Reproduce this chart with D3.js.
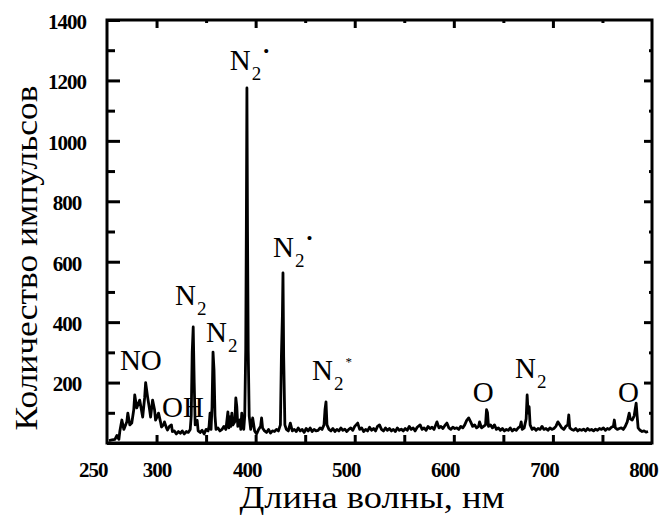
<!DOCTYPE html>
<html>
<head>
<meta charset="utf-8">
<script src="https://cdn.jsdelivr.net/npm/d3@7"></script>
<style>
  body { margin: 0; background: #fff; }
  svg { display: block; }
  text { font-family: "Liberation Serif", "Times New Roman", serif; fill: #000; }
</style>
</head>
<body>
<div id="viz"></div>
<script>
// Wavelength (nm) and counts
const wavelengths = [
  252, 255, 258, 260, 262, 263, 265, 267, 268, 270, 271, 273, 275, 277, 278, 280, 283, 286, 288, 289,
  291, 293, 294, 296, 298, 299, 301, 302, 304, 305, 307, 308, 310, 311, 313, 315, 316, 318, 320, 322,
  324, 326, 328, 330, 332, 334, 335, 336, 337, 338, 339, 341, 342, 344, 346, 348, 350, 352, 353, 354,
  355, 356, 357, 358, 359, 360, 362, 364, 366, 368, 370, 372, 373, 374, 375, 376, 377, 379, 380, 381,
  382, 384, 385, 386, 387, 388, 389, 390, 390.6, 391.2, 391.8, 392.5, 393.5, 395, 397, 399, 401, 403, 405, 406,
  407, 409, 411, 413, 415, 417, 419, 421, 423, 425, 426, 427, 427.6, 428.3, 429.5, 431, 433, 435, 437, 439,
  441, 443, 445, 447, 449, 451, 453, 455, 457, 459, 461, 463, 465, 467, 469, 470, 471, 472, 474, 476,
  478, 480, 482, 484, 486, 488, 490, 492, 494, 496, 498, 500, 503, 505, 507, 509, 511, 513, 515, 517,
  519, 521, 523, 525, 527, 529, 531, 533, 535, 537, 539, 541, 543, 545, 547, 549, 551, 553, 555, 557,
  559, 561, 563, 566, 568, 570, 572, 574, 576, 578, 580, 583, 585, 587, 589, 591, 593, 595, 597, 599,
  601, 603, 605, 607, 609, 611, 613, 615, 617, 619, 621, 623, 625, 626, 628, 630, 632, 633, 634, 635,
  637, 639, 641, 643, 645, 647, 649, 651, 653, 655, 657, 659, 661, 663, 665, 667, 668, 669, 671, 673,
  674, 675, 676, 677, 679, 681, 683, 685, 687, 689, 691, 693, 695, 697, 699, 701, 703, 705, 707, 709,
  711, 713, 715, 716, 717, 719, 721, 723, 725, 727, 729, 731, 733, 735, 737, 739, 741, 743, 745, 747,
  749, 751, 753, 755, 757, 759, 761, 762, 763, 765, 767, 769, 771, 773, 775, 777, 778, 780, 782, 784,
  785, 786, 788, 790, 792, 794, 796
];
const counts = [
  8, 10, 12, 25, 12, 40, 76, 45, 53, 70, 99, 60, 66, 110, 159, 116, 142, 86, 150, 200,
  152, 110, 86, 142, 110, 76, 90, 99, 70, 53, 60, 70, 50, 43, 55, 60, 38, 40, 30, 38,
  32, 40, 30, 38, 35, 45, 90, 300, 384, 200, 60, 75, 40, 35, 42, 30, 45, 40, 55, 99,
  45, 120, 301, 241, 90, 45, 50, 40, 45, 55, 45, 103, 50, 86, 55, 99, 60, 70, 149, 120,
  55, 76, 45, 99, 60, 45, 90, 308, 700, 1175, 700, 308, 90, 45, 83, 40, 30, 45, 55, 83,
  50, 40, 35, 45, 33, 40, 38, 45, 40, 60, 285, 420, 563, 285, 60, 45, 40, 66, 40, 45,
  38, 50, 40, 45, 35, 48, 40, 50, 38, 45, 40, 42, 50, 45, 60, 110, 136, 60, 45, 40,
  48, 38, 45, 40, 50, 42, 46, 38, 45, 50, 42, 55, 66, 45, 50, 38, 45, 40, 52, 42,
  48, 40, 55, 60, 45, 40, 50, 42, 48, 40, 45, 38, 50, 42, 46, 40, 48, 42, 55, 45,
  50, 40, 52, 60, 45, 50, 42, 55, 48, 52, 45, 70, 50, 55, 48, 58, 66, 50, 45, 52,
  48, 50, 45, 55, 50, 60, 75, 83, 70, 55, 60, 50, 55, 70, 50, 55, 60, 110, 100, 55,
  60, 50, 60, 45, 50, 42, 48, 40, 45, 42, 50, 40, 46, 42, 50, 55, 70, 45, 50, 80,
  159, 99, 120, 60, 45, 50, 42, 48, 45, 55, 45, 48, 42, 50, 45, 48, 55, 70, 60, 50,
  45, 55, 60, 93, 50, 45, 42, 48, 40, 45, 42, 46, 40, 48, 42, 45, 40, 46, 42, 48,
  45, 50, 42, 48, 45, 52, 55, 76, 50, 45, 48, 50, 45, 55, 70, 99, 80, 76, 90, 132,
  90, 50, 42, 38, 40, 36, 38
];

// Tick values
const xLabelTicks = [250, 300, 400, 500, 600, 700, 800];
const xMajorTicks = [300, 400, 500, 600, 700];
const xMinorTicks = [350, 450, 550, 650, 750];
const yMajorTicks = [200, 400, 600, 800, 1000, 1200, 1400];
const yMinorTicks = [100, 300, 500, 700, 900, 1100, 1300];

// Peak annotations: anchor given in data units (wavelength, counts)
const peakLabels = [
  { name: "N", sub: "2", sup: "•", wl: 374, cnt: 1235 },
  { name: "N", sub: "2", sup: "•", wl: 417.5, cnt: 616 },
  { name: "N", sub: "2", sup: "", wl: 318.6, cnt: 457 },
  { name: "N", sub: "2", sup: "", wl: 350, cnt: 335 },
  { name: "NO", sub: "", sup: "", wl: 263, cnt: 242 },
  { name: "OH", sub: "", sup: "", wl: 305.5, cnt: 86 },
  { name: "N", sub: "2", sup: "*", wl: 457, cnt: 209 },
  { name: "O", sub: "", sup: "", wl: 619, cnt: 136 },
  { name: "N", sub: "2", sup: "", wl: 661.7, cnt: 215 },
  { name: "O", sub: "", sup: "", wl: 765.6, cnt: 136 }
];

const width = 660;
const height = 518;
const margin = { top: 20, right: 8, bottom: 75, left: 107 };
const innerW = width - margin.left - margin.right;
const innerH = height - margin.top - margin.bottom;

const svg = d3.select('#viz').append('svg')
  .attr('width', width)
  .attr('height', height);

const g = svg.append('g')
  .attr('transform', `translate(${margin.left},${margin.top})`);

const x = d3.scaleLinear().domain([250, 800]).range([0, innerW]);
const y = d3.scaleLinear().domain([0, 1400]).range([innerH, 0]);

// Spectrum line
const spectrum = wavelengths.map((w, i) => ({ wl: w, cnt: counts[i] }));
const line = d3.line()
  .x(d => x(d.wl))
  .y(d => y(d.cnt));

g.append('path')
  .datum(spectrum)
  .attr('fill', 'none')
  .attr('stroke', '#000')
  .attr('stroke-width', 2.8)
  .attr('stroke-linejoin', 'round')
  .attr('d', line);

// Helper for inward ticks without labels
function tickOnly(axis, values, size) {
  return axis.tickValues(values).tickSize(-size).tickFormat('');
}

function styleTicks(sel) {
  sel.select('.domain').remove();
  sel.selectAll('.tick line').attr('stroke', '#000').attr('stroke-width', 3);
}

// Bottom axis
g.append('g').attr('transform', `translate(0,${innerH})`)
  .call(tickOnly(d3.axisBottom(x), xMajorTicks.concat(xMinorTicks), 8))
  .call(styleTicks);

const xLab = g.append('g').attr('transform', `translate(0,${innerH})`)
  .call(d3.axisBottom(x).tickValues(xLabelTicks).tickSize(0).tickFormat(d3.format('d')));
xLab.select('.domain').remove();
xLab.selectAll('text')
  .attr('y', 34)
  .attr('dy', 0)
  .attr('dx', d => d >= 400 ? -9 : 0)
  .attr('text-anchor', d => d === 250 ? 'end' : 'middle')
  .style('font-family', '"Liberation Serif", serif')
  .style('font-weight', 'bold')
  .style('font-size', '21px')
  .style('letter-spacing', '-1px');

// Top axis
g.append('g')
  .call(tickOnly(d3.axisTop(x), xMajorTicks, 8))
  .call(styleTicks);
g.append('g')
  .call(tickOnly(d3.axisTop(x), xMinorTicks, 3))
  .call(styleTicks);

// Left axis
g.append('g')
  .call(tickOnly(d3.axisLeft(y), yMinorTicks, 8))
  .call(styleTicks);
const yAx = g.append('g')
  .call(d3.axisLeft(y).tickValues(yMajorTicks).tickSize(-13).tickFormat(d3.format('d')));
styleTicks(yAx);
yAx.selectAll('text')
  .attr('x', -40)
  .attr('dy', '0.4em')
  .attr('text-anchor', 'middle')
  .style('font-family', '"Liberation Serif", serif')
  .style('font-weight', 'bold')
  .style('font-size', '21px')
  .style('letter-spacing', '-1px');

// Right axis
g.append('g').attr('transform', `translate(${innerW},0)`)
  .call(tickOnly(d3.axisRight(y), yMajorTicks.slice(0, 6), 8))
  .call(styleTicks);
g.append('g').attr('transform', `translate(${innerW},0)`)
  .call(tickOnly(d3.axisRight(y), yMinorTicks, 3))
  .call(styleTicks);

// Frame
g.append('rect')
  .attr('x', 0).attr('y', 0)
  .attr('width', innerW).attr('height', innerH)
  .attr('fill', 'none')
  .attr('stroke', '#000')
  .attr('stroke-width', 3);
g.append('line')
  .attr('x1', 0).attr('x2', innerW)
  .attr('y1', innerH + 1).attr('y2', innerH + 1)
  .attr('stroke', '#000').attr('stroke-width', 2);

// Peak labels
const lbl = g.selectAll('.peak')
  .data(peakLabels)
  .enter().append('text')
  .attr('class', 'peak')
  .attr('x', d => x(d.wl))
  .attr('y', d => y(d.cnt))
  .style('font-size', '29px');
lbl.append('tspan').text(d => d.name);
lbl.filter(d => d.sub).append('tspan')
  .attr('dy', 10)
  .attr('dx', 1)
  .style('font-size', '19px')
  .text(d => d.sub);
lbl.filter(d => d.sup).append('tspan')
  .attr('dy', d => d.sup === '*' ? -24 : -23)
  .attr('dx', 2)
  .style('font-size', d => d.sup === '*' ? '13px' : '17px')
  .text(d => d.sup);

// Axis titles
svg.append('text')
  .attr('x', 372)
  .attr('y', 508)
  .attr('text-anchor', 'middle')
  .attr('textLength', 265)
  .attr('lengthAdjust', 'spacingAndGlyphs')
  .style('font-size', '31px')
  .text('Длина волны, нм');

svg.append('text')
  .attr('transform', 'translate(37,258) rotate(-90)')
  .attr('text-anchor', 'middle')
  .attr('textLength', 345)
  .attr('lengthAdjust', 'spacingAndGlyphs')
  .style('font-size', '31px')
  .text('Количество импульсов');
</script>
</body>
</html>
